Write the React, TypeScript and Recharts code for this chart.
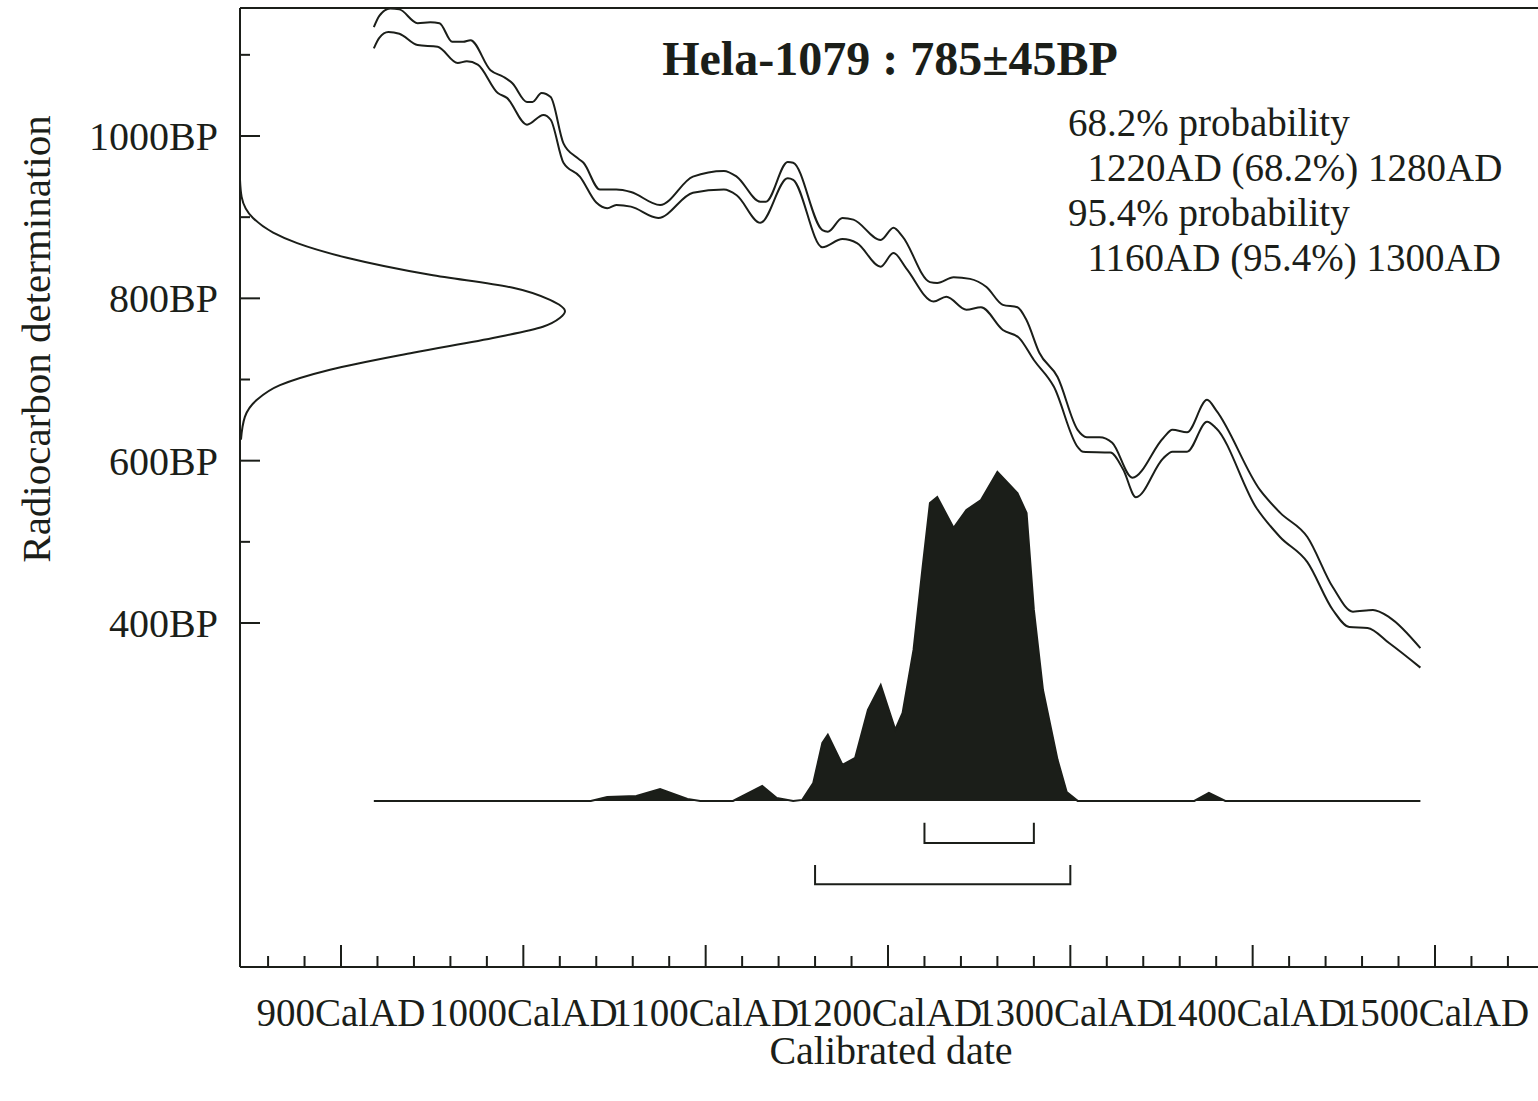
import React from 'react'
import { ComposedChart, Line, Area, XAxis, YAxis, ReferenceLine } from 'recharts'

const INK = '#1b1e19'
const FONT = '"Liberation Serif", "Times New Roman", serif'

// calibration curve, upper and lower edges: [cal AD, BP]
const curveUpper = [
  [918, 1134], [921, 1148], [927, 1157], [932, 1156], [942, 1139], [949, 1140], [954, 1139],
  [961, 1116], [967, 1116], [971, 1118], [982, 1081], [989, 1073], [994, 1065], [1002, 1042],
  [1005, 1042], [1010, 1053], [1015, 1048], [1022, 991], [1029, 974], [1033, 967], [1042, 934],
  [1051, 934], [1059, 931], [1075, 915], [1093, 950], [1110, 957], [1117, 950], [1130, 919],
  [1133, 919], [1145, 968], [1148, 967], [1164, 884], [1167, 882], [1175, 899], [1181, 897],
  [1196, 872], [1203, 887], [1208, 876], [1223, 820], [1227, 819], [1236, 826], [1245, 824],
  [1254, 814], [1263, 792], [1271, 789], [1276, 773], [1283, 733], [1293, 703], [1304, 638],
  [1309, 629], [1316, 629], [1323, 622], [1334, 579], [1351, 628], [1356, 638], [1364, 635],
  [1375, 675], [1380, 662], [1404, 564], [1415, 536], [1430, 506], [1444, 444], [1455, 414],
  [1466, 416], [1475, 407], [1492, 369],
]
const curveLower = [
  [918, 1108], [921, 1121], [926, 1128], [932, 1126], [942, 1112], [953, 1110], [964, 1090],
  [969, 1092], [975, 1088], [986, 1053], [991, 1047], [1002, 1014], [1011, 1026], [1015, 1020],
  [1022, 967], [1031, 950], [1040, 918], [1046, 911], [1051, 915], [1059, 913], [1074, 899],
  [1093, 930], [1110, 934], [1117, 927], [1130, 893], [1145, 948], [1148, 946], [1164, 863],
  [1175, 873], [1183, 868], [1196, 839], [1203, 856], [1210, 837], [1225, 796], [1232, 802],
  [1243, 786], [1251, 789], [1263, 761], [1272, 751], [1280, 724], [1291, 691], [1304, 617],
  [1307, 611], [1322, 610], [1329, 589], [1336, 555], [1351, 603], [1356, 611], [1364, 611],
  [1375, 648], [1380, 640], [1402, 542], [1415, 506], [1430, 475], [1444, 416], [1453, 395],
  [1463, 394], [1475, 375], [1492, 345],
]

// radiocarbon measurement 785±45BP drawn along the BP axis: [BP, relative height]
const dateDensity = [
  [626, 0.003], [654, 0.015], [675, 0.052], [693, 0.123], [712, 0.277], [733, 0.532],
  [752, 0.79], [765, 0.932], [776, 0.985], [784, 1.0], [798, 0.954], [813, 0.84],
  [829, 0.585], [850, 0.329], [868, 0.176], [881, 0.102], [899, 0.04], [925, 0.005], [946, 0],
]

// calibrated probability: [cal AD, relative probability]
const calProb = [
  [918, 0], [1037, 0], [1046, 0.012], [1062, 0.015], [1075, 0.036], [1090, 0.006], [1097, 0],
  [1115, 0], [1131, 0.045], [1139, 0.009], [1148, 0], [1153, 0.003], [1159, 0.054],
  [1164, 0.175], [1167, 0.2], [1175, 0.109], [1182, 0.13], [1189, 0.275], [1196, 0.35],
  [1204, 0.215], [1208, 0.266], [1214, 0.456], [1219, 0.707], [1223, 0.9], [1227, 0.918],
  [1236, 0.825], [1243, 0.879], [1251, 0.909], [1260, 0.994], [1271, 0.93], [1276, 0.87],
  [1280, 0.577], [1285, 0.335], [1293, 0.124], [1298, 0.027], [1304, 0], [1368, 0],
  [1376, 0.024], [1385, 0], [1492, 0],
]

const range68 = [1220, 1280]
const range95 = [1160, 1300]

const xTicks = [
  860, 880, 900, 920, 940, 960, 980, 1000, 1020, 1040, 1060, 1080, 1100, 1120, 1140, 1160,
  1180, 1200, 1220, 1240, 1260, 1280, 1300, 1320, 1340, 1360, 1380, 1400, 1420, 1440, 1460,
  1480, 1500, 1520, 1540,
]
const yTicks = [400, 500, 600, 700, 800, 900, 1000, 1100]

const probLines = [
  '68.2% probability',
  '  1220AD (68.2%) 1280AD',
  '95.4% probability',
  '  1160AD (95.4%) 1300AD',
]

// layout
const W = 1538
const H = 1101
const X_DOMAIN = [844.6, 1556.5]
const Y_DOMAIN = [-23.8, 1157.7]
const AMP_DOMAIN = [0, 3.994]
const PROB_DOMAIN = [-0.502, 2.396]
const BRACKETS = [
  { range: range68, bar: 129, tip: 154 },
  { range: range95, bar: 78, tip: 102 },
]

const upperData = curveUpper.map(([year, bp]) => ({ year, bp }))
const lowerData = curveLower.map(([year, bp]) => ({ year, bp }))
const densityData = dateDensity.map(([bp, amp]) => ({ bp, amp }))
const probData = calProb.map(([year, p]) => ({ year, p }))
const bracketData = BRACKETS.map(({ range, bar, tip }) => [
  { year: range[0], bp: tip },
  { year: range[0], bp: bar },
  { year: range[1], bp: bar },
  { year: range[1], bp: tip },
])

const XTick = (props: any) => {
  const { x, y, payload } = props
  const v = payload.value
  const major = v % 100 === 0
  return (
    <g>
      <line x1={x} y1={y} x2={x} y2={y - (major ? 22 : 11)} stroke={INK} strokeWidth={2} />
      {major && (
        <text x={x} y={y + 59} textAnchor="middle" fontFamily={FONT} fontSize={39} fill={INK}>
          {v}CalAD
        </text>
      )}
    </g>
  )
}

const YTick = (props: any) => {
  const { x, y, payload } = props
  const v = payload.value
  const major = v % 200 === 0
  return (
    <g>
      <line x1={x} y1={y} x2={x + (major ? 20 : 10)} y2={y} stroke={INK} strokeWidth={2} />
      {major && (
        <text x={x - 22} y={y + 14} textAnchor="end" fontFamily={FONT} fontSize={40} fill={INK}>
          {v}BP
        </text>
      )}
    </g>
  )
}

export default function App() {
  return (
    <div style={{ position: 'absolute', left: 0, top: 0, width: W, height: H, background: '#fff' }}>
      <ComposedChart width={W} height={H} margin={{ top: 8, right: 0, bottom: 0, left: 0 }}>
        <XAxis
          dataKey="year"
          type="number"
          domain={X_DOMAIN}
          allowDataOverflow
          ticks={xTicks}
          interval={0}
          tick={<XTick />}
          tickLine={false}
          tickSize={0}
          tickMargin={0}
          height={134}
          axisLine={{ stroke: INK, strokeWidth: 2 }}
        />
        <XAxis xAxisId="rc" dataKey="amp" type="number" domain={AMP_DOMAIN} allowDataOverflow hide />
        <YAxis
          dataKey="bp"
          type="number"
          domain={Y_DOMAIN}
          allowDataOverflow
          ticks={yTicks}
          interval={0}
          tick={<YTick />}
          tickLine={false}
          tickSize={0}
          tickMargin={0}
          width={240}
          axisLine={{ stroke: INK, strokeWidth: 2 }}
        />
        <YAxis yAxisId="prob" type="number" domain={PROB_DOMAIN} allowDataOverflow hide />
        <ReferenceLine y={Y_DOMAIN[1]} stroke={INK} strokeWidth={2} ifOverflow="visible" />

        <Area
          data={probData}
          dataKey="p"
          yAxisId="prob"
          type="linear"
          baseValue={0}
          stroke={INK}
          strokeWidth={2}
          fill={INK}
          fillOpacity={1}
          isAnimationActive={false}
          dot={false}
          activeDot={false}
        />
        <Line data={upperData} dataKey="bp" type="monotone" stroke={INK} strokeWidth={2} dot={false} activeDot={false} isAnimationActive={false} />
        <Line data={lowerData} dataKey="bp" type="monotone" stroke={INK} strokeWidth={2} dot={false} activeDot={false} isAnimationActive={false} />
        <Line data={densityData} dataKey="bp" xAxisId="rc" type="monotoneY" stroke={INK} strokeWidth={2} dot={false} activeDot={false} isAnimationActive={false} />
        {bracketData.map((d, i) => (
          <Line key={i} data={d} dataKey="bp" type="linear" stroke={INK} strokeWidth={2} dot={false} activeDot={false} isAnimationActive={false} />
        ))}
      </ComposedChart>
      <svg width={W} height={H} style={{ position: 'absolute', left: 0, top: 0, pointerEvents: 'none' }}>
        <text x={890} y={75} textAnchor="middle" fontFamily={FONT} fontSize={48} fontWeight="bold" fill={INK}>
          Hela-1079 : 785±45BP
        </text>
        {probLines.map((t, i) => (
          <text key={i} x={1068} y={136 + i * 45} fontFamily={FONT} fontSize={39} fill={INK} style={{ whiteSpace: 'pre' }}>
            {t}
          </text>
        ))}
        <text x={891} y={1064} textAnchor="middle" fontFamily={FONT} fontSize={40} fill={INK}>
          Calibrated date
        </text>
        <text x={50} y={339} textAnchor="middle" fontFamily={FONT} fontSize={41} fill={INK} transform="rotate(-90, 50, 339)">
          Radiocarbon determination
        </text>
      </svg>
    </div>
  )
}
